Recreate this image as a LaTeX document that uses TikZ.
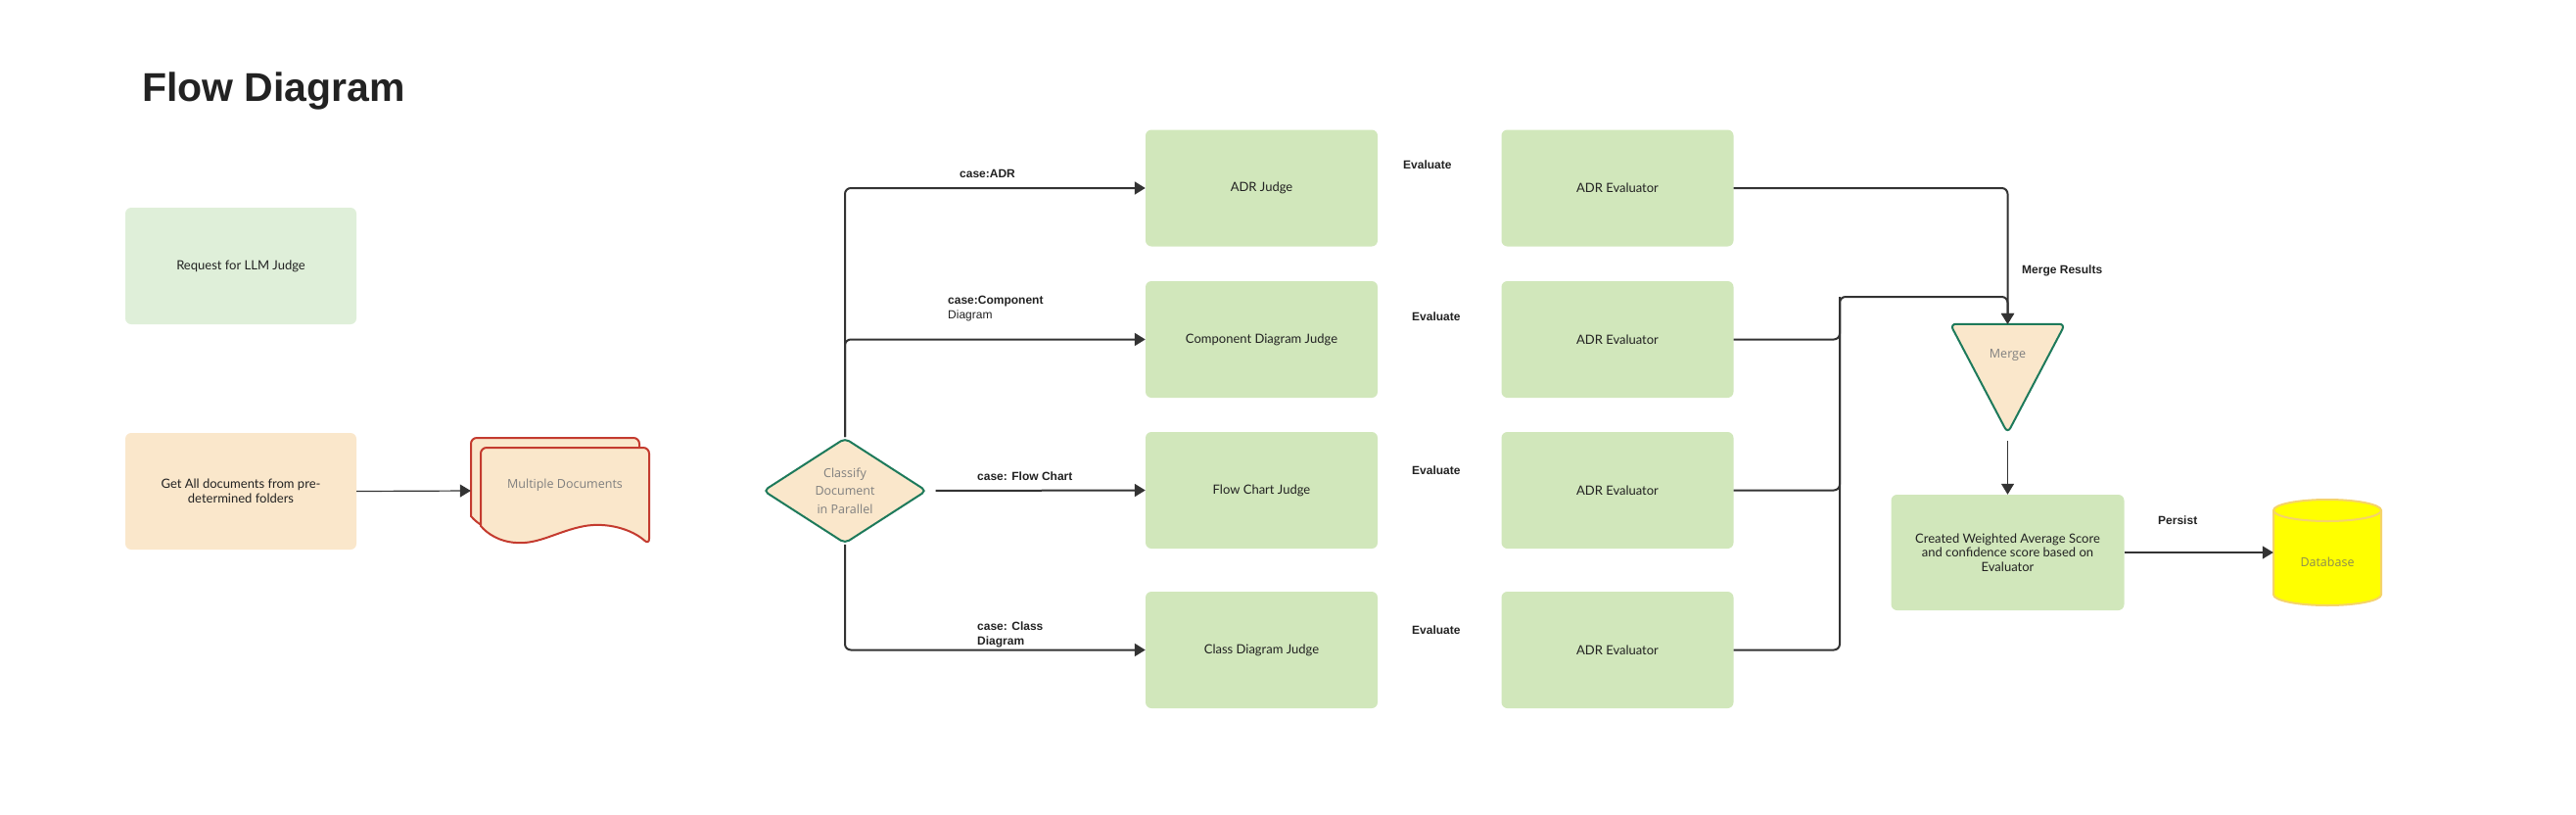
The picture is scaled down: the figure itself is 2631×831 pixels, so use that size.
\documentclass[tikz,border=0pt]{standalone}
\usepackage{fontspec}
\setmainfont{Liberation Sans}
\newfontfamily\boxfont{Lato}
\newfontfamily\shapefont{Open Sans}
\usepackage{tikz}
\usetikzlibrary{arrows.meta,shapes.geometric}

\definecolor{requestgreen}{HTML}{DFEFD9}
\definecolor{judgegreen}{HTML}{D1E7BB}
\definecolor{peach}{HTML}{FAE7CB}
\definecolor{docred}{HTML}{C43B2F}
\definecolor{tealedge}{HTML}{1E7A5B}
\definecolor{linedark}{HTML}{333333}
\definecolor{textdark}{HTML}{222222}
\definecolor{greytext}{HTML}{7F7F7F}
\definecolor{dbyellow}{HTML}{FFFF00}
\definecolor{dbedge}{HTML}{F5D36A}
\definecolor{dbtext}{HTML}{8C8C50}

\begin{document}
\begin{tikzpicture}[x=1pt, y=-1pt,
    judge/.style={rectangle, rounded corners=6pt, fill=judgegreen, minimum width=237pt, minimum height=119pt,
        font=\boxfont\fontsize{13}{15}\selectfont, text=textdark, align=center},
    caselabel/.style={anchor=west, inner sep=0pt, align=left, text=textdark,
        font=\bfseries\fontsize{12}{15}\selectfont},
    shapetext/.style={inner sep=0pt, align=center, text=greytext, font=\shapefont\fontsize{12.5}{18.5}\selectfont},
    flow/.style={draw=linedark, line width=2pt, rounded corners=6pt, -{Triangle[length=11pt,width=13pt]}},
    flowline/.style={draw=linedark, line width=2pt, rounded corners=6pt},
    thinflow/.style={draw=linedark, line width=1.2pt, -{Triangle[length=11pt,width=13pt]}},
    docshape/.style={fill=peach, draw=docred, line width=2pt},
    outline/.style={rectangle, inner sep=0pt}]
\useasboundingbox (0,0) rectangle (2631,831);

\node[anchor=base west, inner sep=0pt, text=textdark, font=\bfseries\fontsize{41}{49}\selectfont] (title) at (145,103) {Flow Diagram};

\node[judge, fill=requestgreen, minimum width=236pt] (request) at (246,271.5) {Request for LLM Judge};
\node[judge, fill=peach, minimum width=236pt] (getall) at (246,501.5) {Get All documents from pre-\\determined folders};

\foreach \d in {10,0}
  \draw[docshape, shift={(-\d,-\d)}] (491,537) [rounded corners=6pt] -- (491,457) -- (663,457) -- (663,556) [sharp corners]
    .. controls (645,540) and (620,533) .. (597,537) .. controls (570,542) and (550,556) .. (527,554)
    .. controls (510,553) and (498,545) .. (491,537) -- cycle;
\node[outline, minimum width=182pt, minimum height=108pt] (docs) at (572,501) {};
\node[shapetext] (docstext) at (577,495) {Multiple Documents};

\node[diamond, rounded corners=5pt, fill=peach, draw=tealedge, line width=2pt, inner sep=0pt,
    minimum width=167pt, minimum height=106pt, shapetext] (classify) at (863,501) {Classify\\Document\\in Parallel};

\node[judge] (adrjudge) at (1288.5,192) {ADR Judge};
\node[judge] (compjudge) at (1288.5,346.5) {Component Diagram Judge};
\node[judge] (flowjudge) at (1288.5,500.5) {Flow Chart Judge};
\node[judge] (classjudge) at (1288.5,663.5) {Class Diagram Judge};

\node[judge] (adreval) at (1652,192) {ADR Evaluator};
\node[judge] (compeval) at (1652,346.5) {ADR Evaluator};
\node[judge] (floweval) at (1652,500.5) {ADR Evaluator};
\node[judge] (classeval) at (1652,663.5) {ADR Evaluator};

\node[caselabel] (caseadr) at (980,177) {case:ADR};
\node[caselabel] (casecomp) at (968,315.5) {case:Component\\\textmd{Diagram}};
\node[caselabel] (caseflow) at (998,486) {case: Flow Chart};
\node[caselabel] (caseclass) at (998,647.5) {case: Class\\Diagram};

\node[caselabel] (evaladr) at (1433,168) {Evaluate};
\node[caselabel] (evalcomp) at (1442,323) {Evaluate};
\node[caselabel] (evalflow) at (1442,480) {Evaluate};
\node[caselabel] (evalclass) at (1442,643) {Evaluate};

\node[outline, minimum width=117pt, minimum height=111pt] (merge) at (2050.5,386.5) {};
\draw[fill=peach, draw=tealedge, line width=2pt, rounded corners=6pt] (merge.north west) -- (merge.north east) -- (merge.south) -- cycle;
\node[shapetext] (mergetext) at (2050.5,363) {Merge};
\node[caselabel] (mergeresults) at (2065,276) {Merge Results};

\node[judge, minimum width=238pt, minimum height=118pt, font=\boxfont\fontsize{13}{14.5}\selectfont] (weighted) at (2050.5,564)
    {Created Weighted Average Score\\and confidence score based on\\Evaluator};
\node[caselabel] (persist) at (2204,531) {Persist};

\node[outline, minimum width=110pt, minimum height=108pt] (db) at (2377,564) {};
\draw[fill=dbyellow, draw=dbedge, line width=2pt] (2322,521) -- (2322,607) arc[start angle=180, end angle=0, x radius=55, y radius=11]
    -- (2432,521) arc[start angle=0, end angle=-180, x radius=55, y radius=11] -- cycle;
\draw[draw=dbedge, line width=2pt] (2322,521) arc[start angle=180, end angle=0, x radius=55, y radius=11];
\node[shapetext, text=dbtext] (dbtext) at (2377,574) {Database};

\draw[thinflow] (getall.east) -- (docs.west);
\draw[flow] (classify.north) |- (adrjudge.west);
\draw[flow] (classify.north) |- (compjudge.west);
\draw[flow, shorten <=8pt] (classify.east) -- (flowjudge.west);
\draw[flow] (classify.south) |- (classjudge.west);

\coordinate (bus) at (1879,303);
\draw[flow] (adreval.east) -| (merge.north);
\draw[flow] (compeval.east) -| (bus) -| (merge.north);
\draw[flowline] (floweval.east) -| (bus);
\draw[flowline] (classeval.east) -| (bus);

\draw[thinflow, shorten <=8pt] (merge.south) -- (weighted.north);
\draw[thinflow] (weighted.east) -- (db.west);
\end{tikzpicture}
\end{document}
